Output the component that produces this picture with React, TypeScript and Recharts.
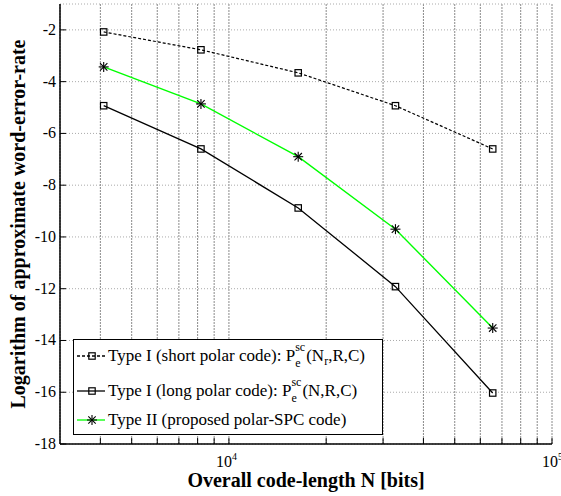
import React from 'react';
import { LineChart, Line, XAxis, YAxis, CartesianGrid, Legend } from 'recharts';

// code lengths N = 2^12 .. 2^16
const codeLengths = [4096, 8192, 16384, 32768, 65536];
const shortPolar = [-2.08, -2.77, -3.66, -4.93, -6.6];
const longPolar = [-4.93, -6.6, -8.88, -11.92, -16.03];
const polarSpc = [-3.43, -4.86, -6.9, -9.7, -13.52];

const xTicks = [4000, 5000, 6000, 7000, 8000, 9000, 10000, 20000, 30000, 40000, 50000, 60000, 70000, 80000, 90000, 100000];
const xTickExp: Record<number, string> = { 10000: '4', 100000: '5' };
const yTicks = [-18, -16, -14, -12, -10, -8, -6, -4, -2];

const data = codeLengths.map((n, i) => ({ n, short: shortPolar[i], long: longPolar[i], spc: polarSpc[i] }));

const FONT = '"Liberation Serif", "Times New Roman", serif';

const Square = ({ cx, cy }: any) => (
  <rect x={cx - 3.2} y={cy - 3.2} width={6.4} height={6.4} fill="none" stroke="#000" strokeWidth={1.2} />
);

const Star = ({ cx, cy }: any) => (
  <g stroke="#000" strokeWidth={1.1}>
    <line x1={cx - 5} y1={cy} x2={cx + 5} y2={cy} />
    <line x1={cx} y1={cy - 5} x2={cx} y2={cy + 5} />
    <line x1={cx - 3.7} y1={cy - 3.7} x2={cx + 3.7} y2={cy + 3.7} />
    <line x1={cx - 3.7} y1={cy + 3.7} x2={cx + 3.7} y2={cy - 3.7} />
  </g>
);

const BottomTick = ({ x, y, payload }: any) => {
  const exp = xTickExp[payload.value];
  const shift = payload.value === 100000 ? 6 : 3;
  return (
    <g>
      <line x1={x} y1={y} x2={x} y2={y - 6} stroke="#000" />
      {exp && (
        <>
          <text x={x + shift} y={y + 23} textAnchor="end" fontSize={16} fontFamily={FONT} fill="#000">10</text>
          <text x={x + shift} y={y + 16} fontSize={10} fontFamily={FONT} fill="#000">{exp}</text>
        </>
      )}
    </g>
  );
};

const TopTick = ({ x, y }: any) => <line x1={x} y1={y} x2={x} y2={y + 6} stroke="#000" />;

const LeftTick = ({ x, y, payload }: any) => (
  <g>
    <line x1={x} y1={y} x2={x + 6} y2={y} stroke="#000" />
    <text x={x - 4} y={y + 5} textAnchor="end" fontSize={16} fontFamily={FONT} fill="#000">{payload.value}</text>
  </g>
);

const RightTick = ({ x, y }: any) => <line x1={x} y1={y} x2={x - 6} y2={y} stroke="#000" />;

const PSc = () => (
  <span style={{ display: 'inline-block', position: 'relative', width: 11, height: 0 }}>
    <span style={{ position: 'absolute', left: 0, top: -20, fontSize: 12, lineHeight: '12px' }}>sc</span>
    <span style={{ position: 'absolute', left: 0, top: -4, fontSize: 12, lineHeight: '12px' }}>e</span>
  </span>
);

const legendRows = [
  { color: '#000', dash: '3 2', marker: 'square', text: 'Type I (short polar code): P', args: 'short' },
  { color: '#000', dash: undefined, marker: 'square', text: 'Type I (long polar code): P', args: 'long' },
  { color: '#00ff00', dash: undefined, marker: 'star', text: 'Type II (proposed polar-SPC code)', args: '' },
];
const rowTops = [6, 41, 70];

const LegendBox = () => (
  <div style={{ position: 'relative', width: 308, height: 94, border: '1.3px solid #000', background: '#fff', fontFamily: FONT, fontSize: 17, color: '#000' }}>
    {legendRows.map((r, i) => (
      <div key={i} style={{ position: 'absolute', left: 0, top: rowTops[i], height: 20, display: 'flex', alignItems: 'center', whiteSpace: 'nowrap' }}>
        <svg width={34} height={20}>
          <line x1={3} y1={10} x2={31} y2={10} stroke={r.color} strokeWidth={1.3} strokeDasharray={r.dash} />
          {r.marker === 'square' ? <Square cx={18} cy={10} /> : <Star cx={18} cy={10} />}
        </svg>
        <span>
          {r.text}
          {r.args === 'short' && (<><PSc />(N<span style={{ fontSize: 12, position: 'relative', top: 4 }}>r</span>,R,C)</>)}
          {r.args === 'long' && (<><PSc />(N,R,C)</>)}
        </span>
      </div>
    ))}
  </div>
);

const App = () => (
  <div style={{ position: 'absolute', left: 0, top: 0, width: 561, height: 496, background: '#fff' }}>
    <LineChart width={561} height={496} data={data} margin={{ top: 4, right: 9, bottom: 0, left: 0 }}>
      <CartesianGrid xAxisId="b" yAxisId="l" horizontal={false} stroke="#8a8a8a" strokeDasharray="2 1" />
      <CartesianGrid xAxisId="b" yAxisId="l" vertical={false} stroke="#aaa" strokeDasharray="1 2" />
      <XAxis xAxisId="b" dataKey="n" type="number" scale="log" domain={[3000, 100000]} allowDataOverflow
        ticks={xTicks} interval={0} height={52} tickSize={0} tickMargin={0} tickLine={false}
        axisLine={{ stroke: '#000', strokeWidth: 1.5 }} tick={<BottomTick />}
        label={() => (
          <text x={306} y={487} textAnchor="middle" fontSize={20} fontWeight="bold" fontFamily={FONT} fill="#000">
            Overall code-length N [bits]
          </text>
        )} />
      <XAxis xAxisId="t" orientation="top" dataKey="n" type="number" scale="log" domain={[3000, 100000]} allowDataOverflow
        ticks={xTicks} interval={0} height={0} tickSize={0} tickMargin={0} tickLine={false}
        axisLine={{ stroke: '#000', strokeWidth: 1.5 }} tick={<TopTick />} />
      <YAxis yAxisId="l" type="number" domain={[-18, -1]} allowDataOverflow ticks={yTicks} interval={0}
        width={60} tickSize={0} tickMargin={0} tickLine={false}
        axisLine={{ stroke: '#000', strokeWidth: 1.5 }} tick={<LeftTick />}
        label={() => (
          <text x={25} y={224} transform="rotate(-90, 25, 224)" textAnchor="middle" fontSize={20} fontWeight="bold" fontFamily={FONT} fill="#000">
            Logarithm of approximate word-error-rate
          </text>
        )} />
      <YAxis yAxisId="r" orientation="right" type="number" domain={[-18, -1]} allowDataOverflow ticks={yTicks} interval={0}
        width={0} tickSize={0} tickMargin={0} tickLine={false}
        axisLine={{ stroke: '#000', strokeWidth: 1.5 }} tick={<RightTick />} />
      <Line xAxisId="b" yAxisId="l" dataKey="short" stroke="#000" strokeWidth={1.2} strokeDasharray="3 2"
        dot={(p: any) => <Square key={p.index} {...p} />} activeDot={false} isAnimationActive={false} />
      <Line xAxisId="b" yAxisId="l" dataKey="long" stroke="#000" strokeWidth={1.3}
        dot={(p: any) => <Square key={p.index} {...p} />} activeDot={false} isAnimationActive={false} />
      <Line xAxisId="b" yAxisId="l" dataKey="spc" stroke="#00ff00" strokeWidth={1.4}
        dot={(p: any) => <Star key={p.index} {...p} />} activeDot={false} isAnimationActive={false} />
      <Legend layout="horizontal" verticalAlign="middle" align="center" content={<LegendBox />}
        wrapperStyle={{ left: 73, top: 339, width: 310, height: 96 }} />
    </LineChart>
  </div>
);

export default App;
